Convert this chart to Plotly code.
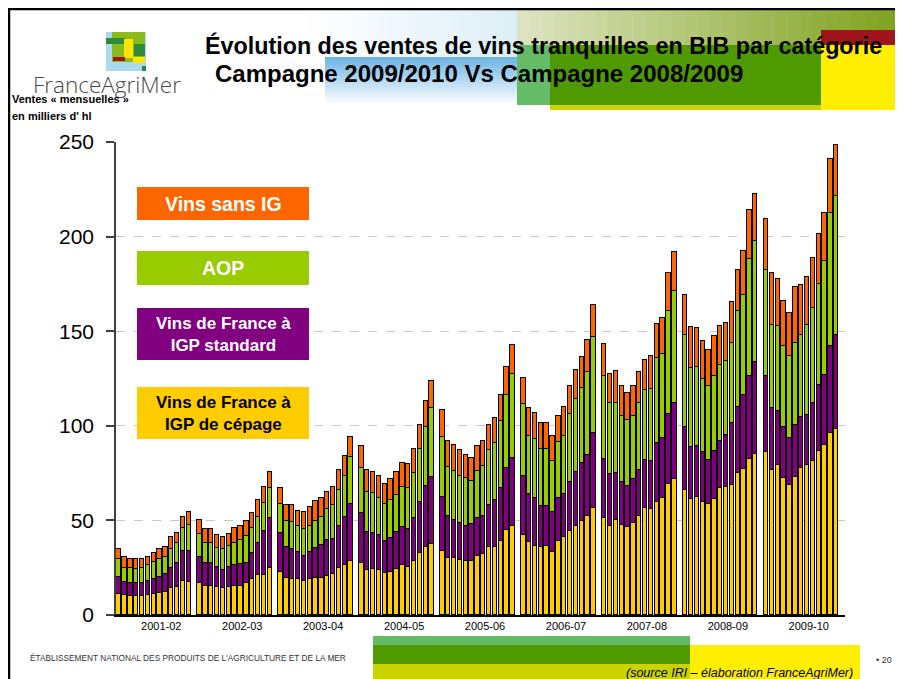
import plotly.graph_objects as go

# ---------------- data ----------------
campaigns = ["2001-02", "2002-03", "2003-04", "2004-05", "2005-06",
             "2006-07", "2007-08", "2008-09", "2009-10"]
periods_per_campaign = 13  # 4-week periods

series_names = ["Vins de France à IGP de cépage", "Vins de France à IGP standard",
                "AOP", "Vins sans IG"]

igp_cepage = [
    11.3, 10.6, 10.0, 10.0, 10.0, 10.6, 11.3, 11.4, 12.0, 14.1, 14.8, 18.1, 17.4,
    16.7, 15.5, 15.5, 15.0, 14.3, 15.0, 15.5, 15.5, 16.7, 18.8, 21.0, 21.0, 25.0,
    22.9, 19.4, 18.8, 18.8, 18.1, 18.8, 19.4, 19.4, 20.8, 21.7, 25.0, 26.4, 28.5,
    27.3, 23.8, 24.1, 23.8, 22.0, 22.9, 24.1, 26.4, 25.5, 28.5, 32.9, 36.1, 37.5,
    33.8, 30.3, 30.3, 29.0, 28.5, 28.5, 31.2, 32.0, 35.7, 35.7, 39.3, 44.9, 47.0,
    42.3, 38.4, 36.6, 35.7, 36.6, 33.1, 39.3, 41.4, 44.4, 47.0, 49.6, 52.5, 56.7,
    51.1, 47.0, 50.2, 47.5, 46.3, 48.8, 52.3, 56.3, 55.8, 59.9, 62.0, 69.2, 71.7,
    66.0, 61.1, 62.5, 59.9, 58.6, 61.1, 66.9, 67.8, 68.7, 74.8, 77.1, 82.4, 85.0,
    85.9, 76.9, 79.2, 72.2, 68.7, 73.1, 77.8, 79.2, 81.3, 86.6, 90.1, 96.3, 98.2,
]
igp_standard = [
    8.9, 7.0, 7.1, 6.7, 6.7, 7.5, 7.7, 8.8, 9.7, 10.9, 12.5, 15.9, 16.6,
    13.8, 11.8, 11.8, 10.5, 9.5, 10.5, 10.9, 11.3, 10.9, 13.8, 16.9, 23.5, 26.1,
    20.6, 16.7, 15.9, 14.7, 13.2, 14.7, 15.8, 17.6, 18.8, 18.4, 22.0, 25.5, 30.1,
    26.4, 20.2, 19.0, 18.5, 17.3, 17.6, 19.6, 19.9, 19.9, 22.6, 27.0, 32.0, 35.6,
    28.7, 22.0, 19.9, 19.4, 18.7, 19.4, 20.2, 20.5, 22.4, 25.0, 27.6, 32.6, 36.1,
    31.3, 25.5, 25.4, 22.0, 21.1, 21.5, 22.3, 22.5, 25.7, 28.7, 31.0, 32.0, 39.6,
    31.6, 27.3, 24.6, 22.6, 21.8, 22.9, 24.3, 25.6, 25.5, 30.8, 31.3, 37.3, 40.6,
    33.5, 27.5, 26.9, 26.0, 23.3, 25.5, 25.2, 27.6, 32.9, 34.9, 39.1, 44.0, 48.5,
    40.5, 32.3, 28.7, 27.3, 25.0, 27.3, 27.0, 26.4, 30.8, 34.9, 37.0, 45.8, 50.0,
]
aop = [
    9.2, 7.4, 7.9, 7.4, 8.3, 8.3, 8.8, 9.2, 9.1, 9.7, 10.6, 11.8, 13.5,
    12.3, 10.6, 10.6, 9.7, 10.9, 10.9, 11.5, 12.8, 14.1, 13.2, 13.7, 14.8, 16.2,
    15.0, 13.5, 14.2, 13.5, 14.1, 13.7, 14.6, 14.9, 16.2, 18.0, 19.0, 21.7, 25.0,
    24.1, 21.1, 21.5, 19.7, 19.3, 20.2, 19.7, 21.5, 21.5, 23.7, 27.6, 31.4, 36.1,
    31.7, 26.0, 26.0, 25.2, 25.0, 22.9, 24.8, 26.4, 29.0, 30.0, 35.6, 38.7, 44.5,
    37.7, 30.8, 30.8, 29.8, 30.3, 26.7, 29.9, 30.8, 35.9, 38.4, 39.5, 43.7, 50.4,
    43.5, 37.5, 37.5, 35.0, 34.9, 33.4, 35.2, 36.9, 38.4, 45.4, 44.6, 54.1, 59.0,
    48.4, 41.7, 41.8, 38.7, 39.1, 39.8, 40.3, 38.9, 42.4, 50.9, 53.2, 62.0, 64.0,
    55.8, 44.3, 44.9, 42.6, 43.1, 43.6, 43.1, 47.6, 50.4, 53.3, 60.0, 70.4, 73.1,
]
sans_ig = [
    5.5, 5.5, 4.4, 5.3, 4.4, 4.4, 4.8, 5.5, 5.3, 6.3, 5.6, 6.0, 7.1,
    7.6, 7.3, 7.3, 7.1, 6.3, 6.4, 7.9, 7.4, 7.9, 8.2, 9.1, 8.1, 8.4,
    8.4, 8.5, 9.2, 8.1, 9.2, 9.7, 10.4, 9.7, 9.0, 9.3, 10.6, 10.4, 10.6,
    11.6, 11.8, 11.1, 11.6, 10.9, 11.0, 12.3, 12.3, 12.7, 13.2, 12.9, 13.7, 14.6,
    14.1, 13.8, 13.6, 13.5, 12.3, 12.3, 13.2, 13.2, 13.3, 13.5, 13.7, 15.0, 15.0,
    14.1, 14.5, 14.2, 14.1, 13.6, 13.4, 13.8, 15.0, 15.1, 15.3, 16.3, 17.0, 17.0,
    16.8, 15.8, 16.6, 15.8, 14.4, 15.8, 16.7, 16.2, 17.1, 17.6, 19.1, 19.9, 20.6,
    21.5, 22.0, 20.6, 20.1, 19.0, 21.0, 20.4, 20.3, 21.5, 22.0, 23.0, 25.5, 25.2,
    27.3, 27.0, 24.7, 23.9, 22.9, 29.4, 26.4, 25.5, 26.2, 26.4, 25.4, 28.7, 27.3,
]
y_ticks = [0, 50, 100, 150, 200, 250]

# ---------------- styling ----------------
COLORS = {"cep": "#FFCC00", "std": "#800080", "aop": "#99CC00", "sig": "#FF6600"}
FONT = "Liberation Sans, Arial, sans-serif"
GAP = 0.85          # empty space between campaigns (in bar slots)
LABEL_SHIFT = 1.3   # category label offset inside its group

x_pos = [g * (periods_per_campaign + GAP) + i
         for g in range(len(campaigns)) for i in range(periods_per_campaign)]
tick_pos = [g * (periods_per_campaign + GAP) + (periods_per_campaign - 1) / 2 + LABEL_SHIFT
            for g in range(len(campaigns))]

fig = go.Figure()
for name, vals, key in zip(series_names, [igp_cepage, igp_standard, aop, sans_ig],
                           ["cep", "std", "aop", "sig"]):
    fig.add_trace(go.Bar(
        x=x_pos, y=vals, name=name, width=0.75,
        marker=dict(color=COLORS[key], line=dict(color="#000000", width=1)),
        showlegend=False,
    ))

# page (browser) geometry: the html body has an 8 px margin
W, H, OFF = 903, 679, 8
# plot area in page pixels
PL, PR, PT, PB = 116, 845, 142, 615


def fx(px):
    return (px - PL) / (PR - PL)


def fy(py):
    return (PB - py) / (PB - PT)


shapes = []
annotations = []


def rect(x0, y0, x1, y1, color, layer="below"):
    shapes.append(dict(type="rect", xref="paper", yref="paper",
                       x0=fx(x0), x1=fx(x1), y0=fy(y1), y1=fy(y0),
                       fillcolor=color, line=dict(width=0), layer=layer))


def hexlerp(c1, c2, t):
    a = [int(c1[i:i + 2], 16) for i in (1, 3, 5)]
    b = [int(c2[i:i + 2], 16) for i in (1, 3, 5)]
    return "#" + "".join("%02X" % round(a[k] + (b[k] - a[k]) * t) for k in range(3))


# --- header decorations ---
n = 30
for k in range(n):  # pale blue top band
    x0 = 300 + (517 - 300) * k / n
    x1 = 300 + (517 - 300) * (k + 1) / n + 0.5
    rect(x0, 8, x1, 57, hexlerp("#FFFFFF", "#DDEFF6", k / (n - 1)))
for k in range(n):  # blue vertical gradient
    y0 = 57 + (105 - 57) * k / n
    y1 = 57 + (105 - 57) * (k + 1) / n + 0.5
    rect(325, y0, 517, y1, hexlerp("#6DB3E3", "#FFFFFF", k / (n - 1)))
for k in range(n):  # olive horizontal gradient
    x0 = 517 + (903 - 517) * k / n
    x1 = 517 + (903 - 517) * (k + 1) / n + 0.5
    rect(x0, 8, x1, 45, hexlerp("#DDE3C0", "#7EA21C", k / (n - 1)))
rect(517, 45, 550, 105, "#66BB66")
rect(550, 45, 821, 105, "#4F9A00")
rect(550, 105, 821, 110, "#CBD400")
rect(821, 30, 903, 45, "#A0141C")
rect(821, 45, 903, 110, "#FFEE00")

# --- logo ---
rect(106, 32, 146, 71, "#A9DAEE")
rect(112, 32, 145, 62, "#8DBA1E")
rect(106, 38, 126, 44, "#2E8B3C")
rect(124, 39, 133, 58, "#FFE600")
rect(134, 44, 145, 56, "#2E8B3C")
rect(113, 57, 125, 61, "#A01818")
rect(133, 57, 145, 63, "#FFE600")
rect(142, 66, 146, 71, "#2E8B3C")

# --- footer decorations ---
rect(373, 636, 690, 645, "#66BB66")
rect(373, 645, 690, 664, "#4F9A00")
rect(373, 664, 690, 679, "#CBD400")
rect(690, 645, 860, 679, "#FFEE00")

# --- frame ---
shapes.append(dict(type="line", xref="paper", yref="paper", x0=fx(9), x1=fx(903),
                   y0=fy(9), y1=fy(9), line=dict(color="#000000", width=2.5)))
shapes.append(dict(type="line", xref="paper", yref="paper", x0=fx(9), x1=fx(9),
                   y0=fy(8), y1=fy(679), line=dict(color="#000000", width=2.5)))

# --- legend boxes ---
legend_boxes = [
    (187, 220, COLORS["sig"], "Vins sans IG", "#FFFFFF", 19.5),
    (251, 285, COLORS["aop"], "AOP", "#FFFFFF", 19.5),
    (308, 360, COLORS["std"], "Vins de France à<br>IGP standard", "#FFFFFF", 17),
    (387, 439, COLORS["cep"], "Vins de France à<br>IGP de cépage", "#000000", 17),
]
for y0, y1, col, txt, tcol, fs in legend_boxes:
    rect(137, y0, 309, y1, col, layer="above")
    annotations.append(dict(xref="paper", yref="paper", x=fx(223), y=fy((y0 + y1) / 2),
                            text="<b>" + txt + "</b>", showarrow=False,
                            xanchor="center", yanchor="middle",
                            font=dict(family=FONT, size=fs, color=tcol)))


def text(px, py, s, size, color="#000000", xanchor="left", bold=False, italic=False,
         family=None, weight=None):
    if bold:
        s = "<b>" + s + "</b>"
    if italic:
        s = "<i>" + s + "</i>"
    f = dict(family=FONT if family is None else family, size=size, color=color)
    if weight is not None:
        f["weight"] = weight
    annotations.append(dict(xref="paper", yref="paper", x=fx(px), y=fy(py), text=s,
                            showarrow=False, xanchor=xanchor, yanchor="middle",
                            font=f))


text(203, 46, "Évolution des ventes de vins tranquilles en BIB par catégorie", 23.3, bold=True)
text(213, 74, "Campagne 2009/2010 Vs Campagne 2008/2009", 24, bold=True)
text(31, 85, "FranceAgriMer", 22.5, color="#4A4A4A", family="Open Sans, sans-serif",
     weight=300)
text(10, 99, "Ventes « mensuelles »", 11, bold=True)
text(10, 116, "en milliers d' hl", 11, bold=True)
text(28, 658, "ÉTABLISSEMENT NATIONAL DES PRODUITS DE L'AGRICULTURE ET DE LA MER", 8.3,
     color="#333333")
text(855, 673, "(source IRI – élaboration FranceAgriMer)", 12.5, xanchor="right",
     italic=True)
text(874, 660, "• 20", 9, color="#333333")

fig.update_layout(
    width=W - OFF, height=H - OFF,
    margin=dict(l=PL - OFF, r=W - PR, t=PT - OFF, b=H - PB, pad=0),
    paper_bgcolor="#FFFFFF", plot_bgcolor="#FFFFFF",
    barmode="stack", bargap=0,
    font=dict(family=FONT, color="#000000"),
    shapes=shapes, annotations=annotations,
    xaxis=dict(range=[-0.45, 124.3], tickmode="array", tickvals=tick_pos,
               ticktext=campaigns, showgrid=False, zeroline=False, showline=True,
               linecolor="#000000", linewidth=1.5, ticks="",
               tickfont=dict(size=11, family=FONT)),
    yaxis=dict(range=[0, 250], tickmode="array", tickvals=y_ticks,
               showgrid=True, gridcolor="#C8C8C8", griddash="dash", gridwidth=1,
               zeroline=False, showline=True, linecolor="#404040", linewidth=1.5,
               ticks="outside", ticklen=8, tickcolor="#404040", tickwidth=1.5,
               ticklabelstandoff=8,
               tickfont=dict(size=21, family=FONT)),
)

fig.write_html("out.html")
